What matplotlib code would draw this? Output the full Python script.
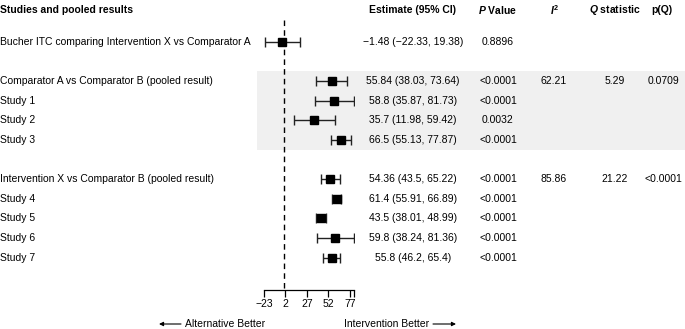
import matplotlib
matplotlib.use("Agg")
import matplotlib.pyplot as plt
from matplotlib.patches import Rectangle
from matplotlib.transforms import blended_transform_factory

plt.rcParams['font.family'] = ['Liberation Sans', 'DejaVu Sans']
plt.rcParams['mathtext.fontset'] = 'custom'
plt.rcParams['mathtext.rm'] = 'Liberation Sans:bold'
plt.rcParams['mathtext.it'] = 'Liberation Sans:italic:bold'
plt.rcParams['axes.unicode_minus'] = True

# data
labels = [
    "Bucher ITC comparing Intervention X vs Comparator A",
    "Comparator A vs Comparator B (pooled result)",
    "Study 1", "Study 2", "Study 3",
    "Intervention X vs Comparator B (pooled result)",
    "Study 4", "Study 5", "Study 6", "Study 7",
]
rows = [0, 2, 3, 4, 5, 7, 8, 9, 10, 11]
est = [-1.48, 55.84, 58.8, 35.7, 66.5, 54.36, 61.4, 43.5, 59.8, 55.8]
lo = [-22.33, 38.03, 35.87, 11.98, 55.13, 43.5, 55.91, 38.01, 38.24, 46.2]
hi = [19.38, 73.64, 81.73, 59.42, 77.87, 65.22, 66.89, 48.99, 81.36, 65.4]
pvals = ["0.8896", "<0.0001", "<0.0001", "0.0032", "<0.0001",
         "<0.0001", "<0.0001", "<0.0001", "<0.0001", "<0.0001"]
pooled_rows = [2, 7]
i2 = ["62.21", "85.86"]
qstat = ["5.29", "21.22"]
pq = ["0.0709", "<0.0001"]
xticks = [-23, 2, 27, 52, 77]
shaded = (1.5, 5.5)

FS = 7.5
W, H = 685, 329
fig = plt.figure(figsize=(W / 100, H / 100), dpi=100)

row_px0, row_step = 42, 19.6   # pixel y of row 0 and row spacing
axis_px = 289.5
ax = fig.add_axes([264 / W, 1 - axis_px / H, 90 / W, axis_px / H])
ax.set_ylim((axis_px - row_px0) / row_step, -row_px0 / row_step)
ax.set_xlim(min(xticks), max(hi))

# shaded band for the comparator A vs B block
tr = blended_transform_factory(fig.transFigure, ax.transData)
band = Rectangle((257 / W, shaded[0]), 1 - 257 / W, shaded[1] - shaded[0],
                 transform=tr, facecolor='#f0f0f0', edgecolor='none',
                 zorder=0, clip_on=False)
ax.add_patch(band)

ax.vlines(0, -1.1, ax.get_ylim()[0], colors='black', linestyles=(0, (4, 3)),
          linewidth=1.0, zorder=1)

err_lo = [e - l for e, l in zip(est, lo)]
err_hi = [h - e for e, h in zip(est, hi)]
ax.errorbar(est, rows, xerr=[err_lo, err_hi], fmt='none', ecolor='#222222',
            elinewidth=1.0, capsize=3.5, capthick=1.0, zorder=2)
ax.plot(est, rows, 's', color='black', markersize=6, zorder=3)

for s in ['top', 'right', 'left']:
    ax.spines[s].set_visible(False)
ax.spines['bottom'].set_linewidth(0.9)
ax.set_yticks([])
ax.set_xticks(xticks)
ax.set_xticks([max(hi)], minor=True)
ax.tick_params(axis='x', which='both', direction='out', length=5, width=0.9,
               labelsize=FS, pad=1.5)
ax.patch.set_visible(False)


def fx(px):
    return px / W


hdr_r = (10 - row_px0) / row_step
hdr = dict(transform=tr, fontsize=FS, fontweight='bold', va='center')
ax.text(fx(0), hdr_r, "Studies and pooled results", ha='left', **hdr)
ax.text(fx(413), hdr_r, "Estimate (95% CI)", ha='center', **hdr)
ax.text(fx(498), hdr_r, "$P$ Value", ha='center', **hdr)
ax.text(fx(555), hdr_r, "$I^2$", ha='center', **hdr)
ax.text(fx(615), hdr_r, "$Q$ statistic", ha='center', **hdr)
ax.text(fx(662), hdr_r, "p(Q)", ha='center', **hdr)


def num(v):
    return f"{v:g}".replace("-", "\u2212")


for r, lab, e, l, h, p in zip(rows, labels, est, lo, hi, pvals):
    ax.text(fx(0), r, lab, transform=tr, fontsize=FS, ha='left', va='center')
    ax.text(fx(413), r, f"{num(e)} ({num(l)}, {num(h)})", transform=tr,
            fontsize=FS, ha='center', va='center')
    ax.text(fx(498), r, p, transform=tr, fontsize=FS, ha='center', va='center')

for r, a, b, c in zip(pooled_rows, i2, qstat, pq):
    ax.text(fx(554), r, a, transform=tr, fontsize=FS, ha='center', va='center')
    ax.text(fx(615), r, b, transform=tr, fontsize=FS, ha='center', va='center')
    ax.text(fx(663), r, c, transform=tr, fontsize=FS, ha='center', va='center')

# direction labels
yb = 1 - 324 / H
arrow = dict(arrowstyle='-|>', lw=0.8, color='black', mutation_scale=6,
             shrinkA=0, shrinkB=0)
fig.text(fx(185), yb, "Alternative Better", fontsize=FS, ha='left', va='center')
ax.annotate('', xy=(fx(159), yb), xytext=(fx(181), yb), xycoords='figure fraction',
            textcoords='figure fraction', arrowprops=arrow)
fig.text(fx(344), yb, "Intervention Better", fontsize=FS, ha='left', va='center')
ax.annotate('', xy=(fx(456), yb), xytext=(fx(433), yb), xycoords='figure fraction',
            textcoords='figure fraction', arrowprops=arrow)

fig.savefig("out.png", dpi=100)
